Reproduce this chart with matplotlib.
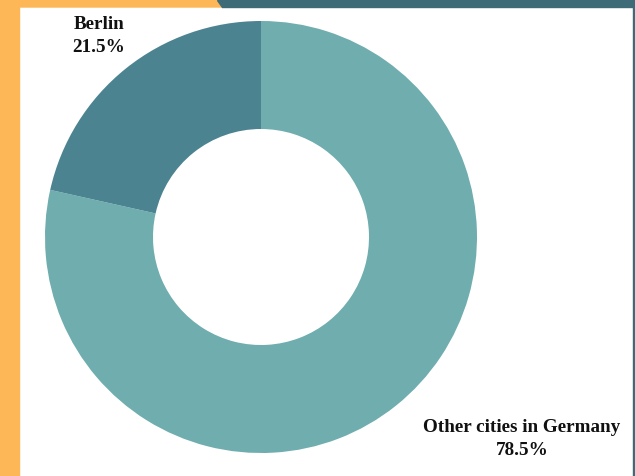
import matplotlib.pyplot as plt
from matplotlib.patches import Polygon, Rectangle

# Data
labels = ["Other cities in Germany", "Berlin"]
shares = [78.5, 21.5]
colors = ["#6FADAE", "#4B8391"]

W, H = 635, 476

fig = plt.figure(figsize=(6.35, 4.76), dpi=100)
ax = fig.add_axes([0, 0, 1, 1])

# Frame decorations (orange band left, teal band top)
ax.add_patch(Rectangle((0, 0), 19, H, color="#FDB757", zorder=0))
ax.add_patch(Polygon([(0, H), (217, H), (222, H - 7), (0, H - 7)], color="#FDB757", zorder=0))
ax.add_patch(Polygon([(217, H), (W, H), (W, H - 7), (222, H - 7)], color="#3E6B78", zorder=0))
ax.add_patch(Rectangle((W - 2, 0), 2, H - 7, color="#3E6B78", zorder=0))

# Donut
ax.pie(shares, colors=colors, startangle=90, counterclock=False,
       center=(261, H - 237), radius=216, frame=True,
       wedgeprops=dict(width=108, linewidth=0))
ax.set_xlim(0, W)
ax.set_ylim(0, H)
ax.axis("off")

font = dict(family="Liberation Serif", weight="bold", fontsize=13.8,
            ha="center", va="center", linespacing=1.45, color="#111111")
ax.text(99, H - 36, "{}\n{:.1f}%".format(labels[1], shares[1]), **font)
ax.text(522, H - 439, "{}\n{:.1f}%".format(labels[0], shares[0]), **font)

plt.savefig("out.png", dpi=100)
